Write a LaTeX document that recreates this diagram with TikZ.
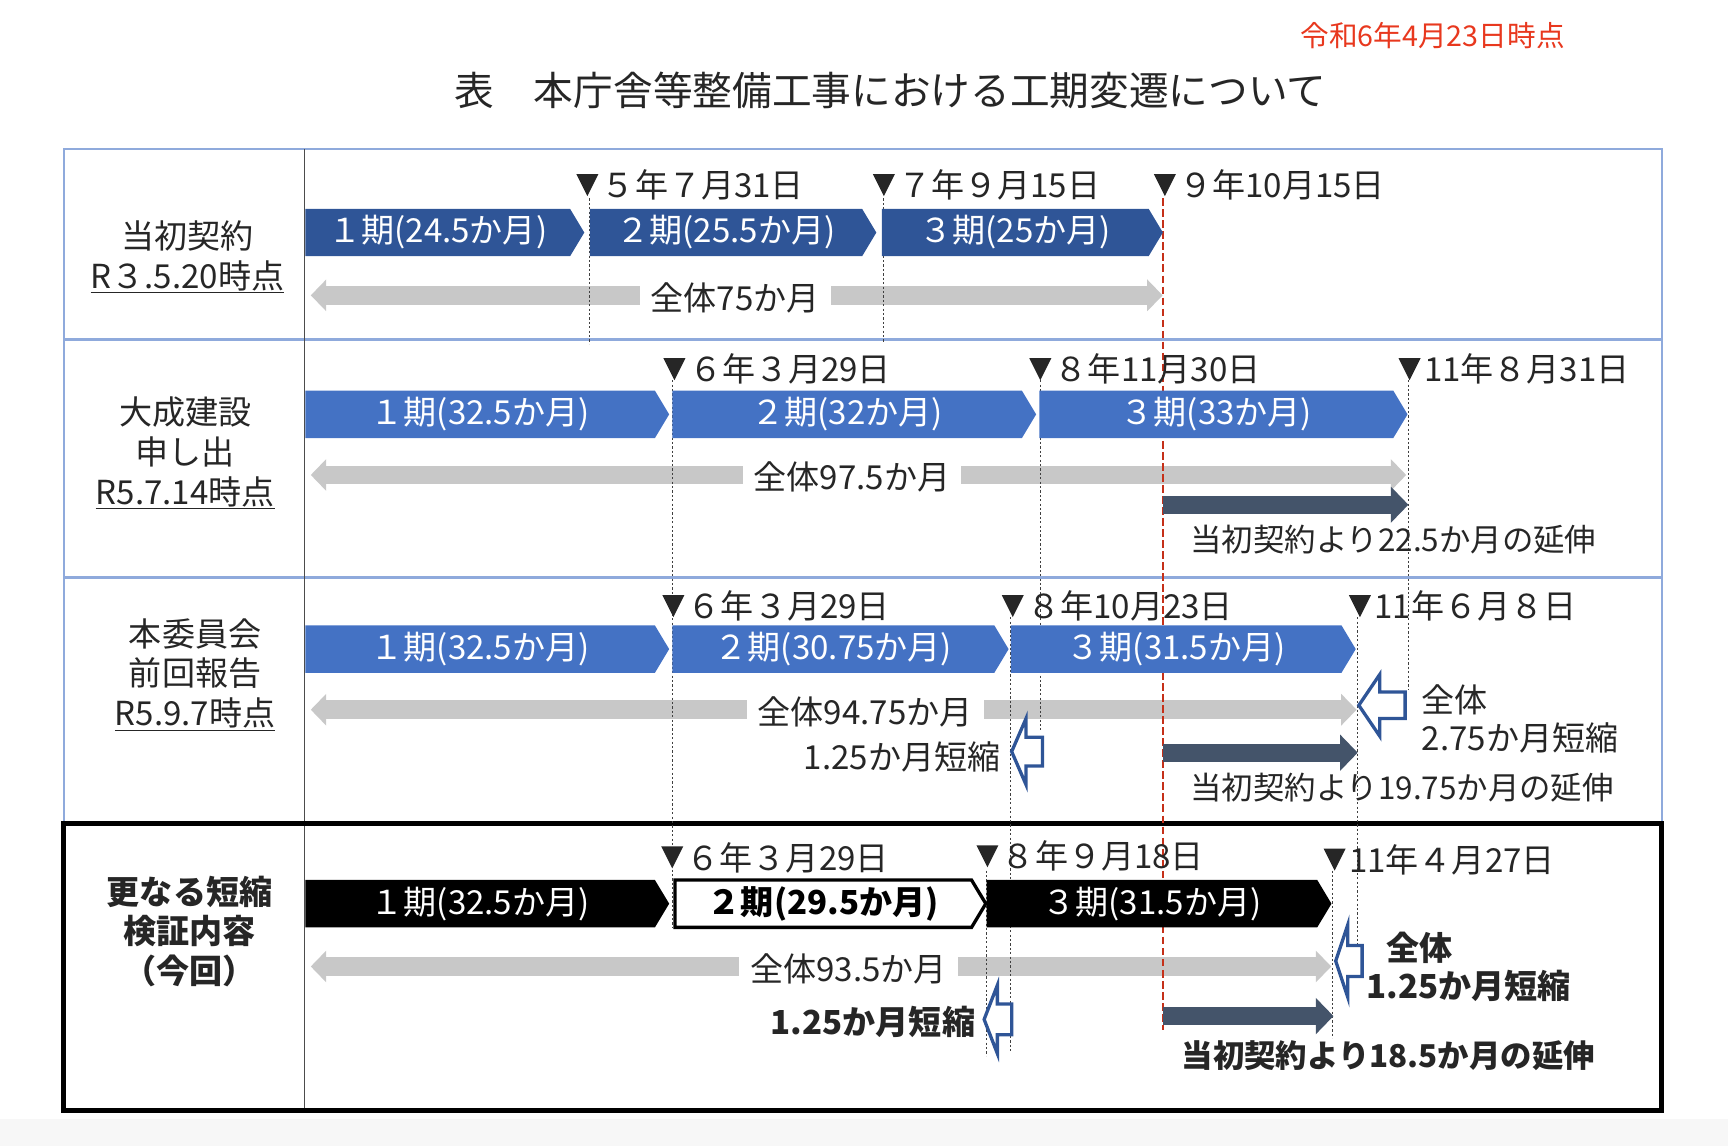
\documentclass[tikz,border=0pt]{standalone}
\usepackage{fontspec}
\setmainfont{Noto Sans CJK JP}
\usetikzlibrary{arrows.meta,shapes.symbols}
\definecolor{navy}{RGB}{47,85,151}
\definecolor{midblue}{RGB}{68,114,196}
\definecolor{slate}{RGB}{68,84,106}
\definecolor{barGray}{RGB}{200,200,200}
\definecolor{frameblue}{RGB}{143,170,220}
\definecolor{stampred}{RGB}{232,56,30}
\begin{document}
\begin{tikzpicture}[x=1pt,y=-1pt,
  every node/.style={inner sep=0, text=black!85, font=\fontsize{30}{36}\selectfont},
  phase/.style={signal, signal to=east, signal pointer angle=118, minimum height=43pt, anchor=west, text=white},
  total/.style={line width=17pt, draw=barGray, {Triangle[width=28pt,length=14pt]}-{Triangle[width=28pt,length=14pt]}},
  totaltxt/.style={fill=white, inner xsep=10pt, inner ysep=2pt},
  delay/.style={line width=16pt, draw=slate, -{Triangle[width=32pt,length=16pt]}},
  delaytxt/.style={anchor=west, font=\fontsize{28.5}{34}\selectfont},
  guide/.style={black!75, line width=1pt, dash pattern=on 2pt off 2pt},
  hollow/.style={draw=navy, line width=3pt, fill=white, line join=miter},
  rowlabel/.style={align=center}]
\useasboundingbox (0,0) rectangle (1568,1040);
\fill[black!3] (0,1015) rectangle (1568,1040);

\node[text=stampred, font=\fontsize{26}{30}\selectfont] (stamp) at (1300,32) {令和6年4月23日時点};
\node[font=\fontsize{36}{40}\selectfont] (title) at (808,82) {表　本庁舎等整備工事における工期変遷について};

\draw[frameblue, line width=2pt] (58,135) rectangle (1508,747);
\draw[frameblue, line width=3pt] (58,308) -- (1508,308);
\draw[frameblue, line width=3pt] (58,524) -- (1508,524);
\draw[black!70, line width=1pt] (276,135) -- (276,1008);
\draw[line width=4.5pt] (58,747) rectangle (1508,1008);

\node[rowlabel] (lab1) at (170,233) {当初契約\\\underline{R３.5.20時点}};
\node[rowlabel] (lab2) at (168,411) {大成建設\\申し出\\\underline{R5.7.14時点}};
\node[rowlabel] (lab3) at (177,612) {本委員会\\前回報告\\\underline{R5.9.7時点}};
\node[rowlabel, font=\fontsize{30}{36}\selectfont\bfseries] (lab4) at (172,845) {更なる短縮\\検証内容\\（今回）};

\coordinate (t1a) at (282,268); \coordinate (t1b) at (1055,268);
\coordinate (t2a) at (282,431); \coordinate (t2b) at (1276,431);
\coordinate (t3a) at (282,644); \coordinate (t3b) at (1231,644);
\coordinate (t4a) at (282,877); \coordinate (t4b) at (1208,877);
\draw[total] (t1a) -- (t1b);
\draw[total] (t2a) -- (t2b);
\draw[total] (t3a) -- (t3b);
\draw[total] (t4a) -- (t4b);

\draw[guide] (535,180) -- (535,312);
\draw[guide] (802,180) -- (802,310);
\draw[guide] (610,345) -- (610,842);
\draw[guide] (944,345) -- (944,662);
\draw[guide] (1278,345) -- (1278,626);
\draw[guide] (917,560) -- (917,955);
\draw[guide] (1232,560) -- (1232,858);
\draw[guide] (895,790) -- (895,958);
\draw[guide] (1209,790) -- (1209,942);
\draw[stampred!85!black, line width=2pt, dash pattern=on 7pt off 3pt] (1055,180) -- (1055,935);

\foreach \x/\y/\lbl [count=\i] in {533/168/５年７月31日, 802/168/７年９月15日, 1057/168/９年10月15日,
    612/335/６年３月29日, 944/335/８年11月30日, 1279/335/11年８月31日,
    611/550/６年３月29日, 919/550/８年10月23日, 1234/550/11年６月８日,
    610/778/６年３月29日, 896/777/８年９月18日, 1211/780/11年４月27日}{
  \fill[black!85] (\x-10,\y-10) -- (\x+10,\y-10) -- (\x,\y+10) -- cycle;
  \node[anchor=west] (d\i) at (\x+13,\y) {\lbl};
}

\node[phase, fill=navy, minimum width=253pt] (p11) at (277,211) {１期(24.5か月)};
\node[phase, fill=navy, minimum width=260pt] (p12) at (535,211) {２期(25.5か月)};
\node[phase, fill=navy, minimum width=255pt] (p13) at (800,211) {３期(25か月)};
\node[phase, fill=midblue, minimum width=330pt] (p21) at (277,376) {１期(32.5か月)};
\node[phase, fill=midblue, minimum width=330pt] (p22) at (610,376) {２期(32か月)};
\node[phase, fill=midblue, minimum width=334pt] (p23) at (943,376) {３期(33か月)};
\node[phase, fill=midblue, minimum width=330pt] (p31) at (277,589) {１期(32.5か月)};
\node[phase, fill=midblue, minimum width=305pt] (p32) at (610,589) {２期(30.75か月)};
\node[phase, fill=midblue, minimum width=313pt] (p33) at (917,589) {３期(31.5か月)};
\node[phase, fill=black, minimum width=330pt] (p41) at (277,820) {１期(32.5か月)};
\node[phase, fill=white, draw=black, line width=3pt, minimum width=282pt, text=black, font=\fontsize{30}{36}\selectfont\bfseries] (p42) at (611,820) {２期(29.5か月)};
\node[phase, fill=black, minimum width=313pt] (p43) at (895,820) {３期(31.5か月)};

\node[totaltxt] (n1) at (667,270) {全体75か月};
\node[totaltxt] (n2) at (773,433) {全体97.5か月};
\node[totaltxt] (n3) at (785,646) {全体94.75か月};
\node[totaltxt] (n4) at (770,879) {全体93.5か月};

\coordinate (e2a) at (1055,458); \coordinate (e2b) at (1278,458);
\coordinate (e3a) at (1055,683); \coordinate (e3b) at (1232,683);
\coordinate (e4a) at (1055,922); \coordinate (e4b) at (1210,922);
\draw[delay] (e2a) -- (e2b);
\draw[delay] (e3a) -- (e3b);
\draw[delay] (e4a) -- (e4b);
\node[delaytxt] (x2) at (1080,490) {当初契約より22.5か月の延伸};
\node[delaytxt] (x3) at (1080,715) {当初契約より19.75か月の延伸};
\node[delaytxt, font=\fontsize{28.5}{34}\selectfont\bfseries] (x4) at (1072,958) {当初契約より18.5か月の延伸};

\draw[hollow] (1233,640) -- (1252,612) -- (1252,628) -- (1275,628) -- (1275,652) -- (1252,652) -- (1252,668) -- cycle;
\draw[hollow] (918,682) -- (931,652) -- (931,669) -- (946,669) -- (946,695) -- (931,695) -- (931,712) -- cycle;
\draw[hollow] (1212,872) -- (1223,839) -- (1223,858) -- (1236,858) -- (1236,886) -- (1223,886) -- (1223,905) -- cycle;
\draw[hollow] (893,925) -- (905,894) -- (905,911) -- (918,911) -- (918,939) -- (905,939) -- (905,956) -- cycle;

\node[anchor=west] (s3a) at (1290,635) {全体};
\node[anchor=west] (s3b) at (1290,670) {2.75か月短縮};
\node[anchor=east] (s3c) at (908,687) {1.25か月短縮};
\node[anchor=west, font=\fontsize{30}{36}\selectfont\bfseries] (s4a) at (1258,860) {全体};
\node[anchor=west, font=\fontsize{30}{36}\selectfont\bfseries] (s4b) at (1240,895) {1.25か月短縮};
\node[anchor=east, font=\fontsize{30}{36}\selectfont\bfseries] (s4c) at (885,927) {1.25か月短縮};
\end{tikzpicture}
\end{document}
